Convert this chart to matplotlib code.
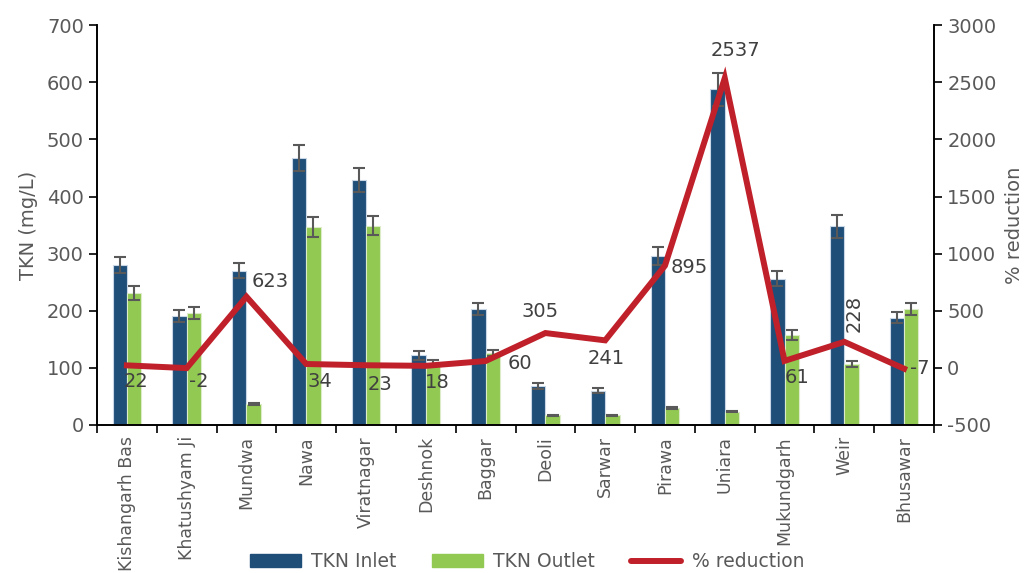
import numpy as np
import matplotlib
matplotlib.use("Agg")
import matplotlib.pyplot as plt
from matplotlib.patches import Patch
from matplotlib.lines import Line2D

# dados
locais = ["Kishangarh Bas", "Khatushyam Ji", "Mundwa", "Nawa", "Viratnagar",
          "Deshnok", "Baggar", "Deoli", "Sarwar", "Pirawa", "Uniara",
          "Mukundgarh", "Weir", "Bhusawar"]
tkn_entrada = [280, 191, 270, 467, 429, 122, 203, 68, 60, 296, 588, 256, 348, 188]
tkn_saida = [231, 196, 37, 347, 349, 108, 126, 17, 17, 30, 23, 158, 107, 203]
erro_entrada = [14, 10, 13, 23, 21, 8, 11, 5, 4, 15, 29, 13, 20, 10]
erro_saida = [12, 10, 2, 17, 17, 5, 6, 1, 1, 2, 1, 9, 5, 10]
reducao = [22, -2, 623, 34, 23, 18, 60, 305, 241, 895, 2537, 61, 228, -7]

# posicao dos rotulos (offset em pontos, alinhamento, rotacao)
rotulos_pos = [
    ((-2, -5), "left", "top", 0),
    ((2, -3), "left", "top", 0),
    ((4, 4), "left", "bottom", 0),
    ((1, -6), "left", "top", 0),
    ((1, -7), "left", "top", 0),
    ((-1, -5), "left", "top", 0),
    ((16, -2), "left", "center", 0),
    ((-4, 9), "center", "bottom", 0),
    ((1, -6), "center", "top", 0),
    ((4, -1), "left", "center", 0),
    ((8, 13), "center", "bottom", 0),
    ((0, -5), "left", "top", 0),
    ((7, 7), "center", "bottom", 90),
    ((4, 0), "left", "center", 0),
]

cor_entrada = "#1F4E79"
cor_saida = "#92C952"
cor_linha = "#C0202A"
cinza = "#595959"

plt.rcParams["font.family"] = ["DejaVu Sans"]
plt.rcParams["axes.unicode_minus"] = False

fig = plt.figure(figsize=(10.34, 5.73), dpi=100)
ax = fig.add_axes([0.0938, 0.2583, 0.8095, 0.6977])
ax2 = ax.twinx()

x = np.arange(len(locais))
largura = 0.24
kw_erro = dict(ecolor=cinza, elinewidth=1.5, capthick=1.5)
ax.bar(x - largura / 2, tkn_entrada, largura, yerr=erro_entrada, capsize=4,
       color=cor_entrada, edgecolor="#c8d6e5", linewidth=0.8, error_kw=kw_erro, zorder=2)
ax.bar(x + largura / 2, tkn_saida, largura, yerr=erro_saida, capsize=4,
       color=cor_saida, edgecolor="#dcecc8", linewidth=0.8, error_kw=kw_erro, zorder=2)

ax2.plot(x, reducao, color=cor_linha, linewidth=4.3, solid_joinstyle="miter", zorder=3)
for xi, v, (off, ha, va, rot) in zip(x, reducao, rotulos_pos):
    ax2.annotate(str(v), (xi, v), xytext=off, textcoords="offset points",
                 ha=ha, va=va, rotation=rot, fontsize=14, color="#404040")

ax.set_xlim(-0.5, len(locais) - 0.5)
ax.set_ylim(0, 700)
ax.set_yticks(np.arange(0, 701, 100))
ax2.set_ylim(-500, 3000)
ax2.set_yticks(np.arange(-500, 3001, 500))

ax.set_xticks(x)
ax.set_xticklabels(locais, rotation=90, fontsize=12.5, color=cinza)
ax.set_xticks(np.arange(-0.5, len(locais), 1), minor=True)
ax.tick_params(axis="x", which="major", length=0, pad=8)
ax.tick_params(axis="x", which="minor", length=6, width=1.2, direction="out")
ax.tick_params(axis="y", labelsize=14, labelcolor=cinza, length=6, width=1.2)
ax2.tick_params(axis="y", labelsize=14, labelcolor=cinza, length=6, width=1.2)

for a in (ax, ax2):
    a.spines["top"].set_visible(False)
    for s in ("left", "right", "bottom"):
        a.spines[s].set_linewidth(1.2)
        a.spines[s].set_color("black")

ax.set_ylabel("TKN (mg/L)", fontsize=14, color=cinza, labelpad=6)
ax2.set_ylabel("% reduction", fontsize=14, color=cinza, labelpad=6)

handles = [Patch(color=cor_entrada), Patch(color=cor_saida),
           Line2D([0], [0], color=cor_linha, linewidth=4.3, solid_capstyle="round")]
fig.legend(handles, ["TKN Inlet", "TKN Outlet", "% reduction"], loc="center",
           bbox_to_anchor=(0.51, 0.02), ncol=3, frameon=False, handlelength=2.7,
           handleheight=0.65, columnspacing=1.9, handletextpad=0.55,
           prop={"size": 13.5}, borderpad=0.2)
for t in fig.legends[0].get_texts():
    t.set_color(cinza)

fig.savefig("out.png", dpi=100)
